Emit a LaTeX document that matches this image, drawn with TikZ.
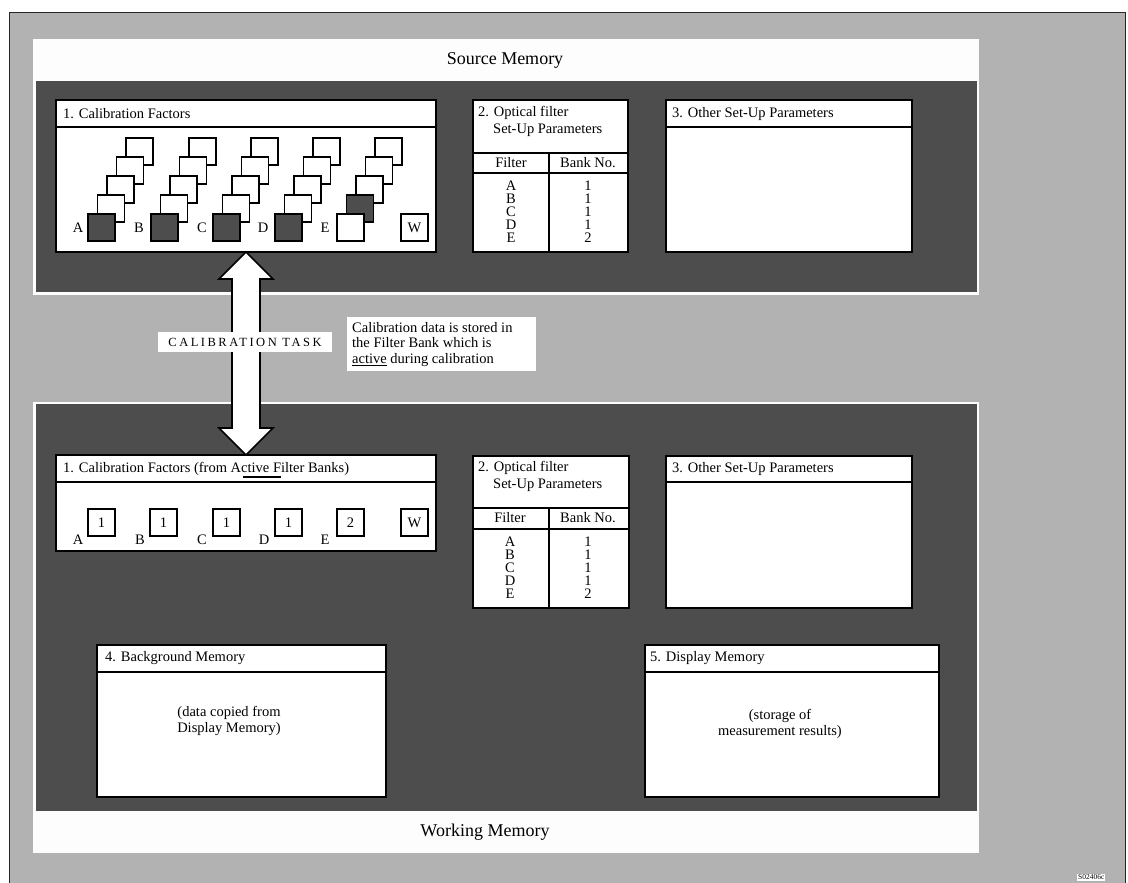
\documentclass[tikz,border=0pt]{standalone}
\usepackage{fontspec}
\setmainfont{Liberation Serif}
\definecolor{panelgray}{HTML}{B2B2B2}
\definecolor{darkpanel}{HTML}{4D4D4D}
\definecolor{offwhite}{HTML}{FDFDFD}
\newcommand\myfs[2]{\fontsize{#1}{#2}\selectfont}
\newcommand\thickul[1]{\setbox0\hbox{#1}\rlap{\raisebox{-3.2pt}{\rule{\wd0}{1.8pt}}}\box0\relax}
\begin{document}
\begin{tikzpicture}[x=1pt,y=-1pt,
  box/.style={draw=black, line width=1.8pt, fill=white},
  hline/.style={draw=black, line width=1.6pt},
  sqbox/.style={draw=black, line width=1.3pt, fill=white, minimum size=27pt, inner sep=0pt, outer sep=0pt, anchor=north west},
  sqdark/.style={sqbox, fill=darkpanel},
  lbl/.style={font=\myfs{14.5}{14}, inner sep=0pt},
  hdr/.style={font=\myfs{14.5}{14}, inner sep=0pt, anchor=west},
  title/.style={font=\myfs{18}{18}, inner sep=0pt}
]
\useasboundingbox (0,0) rectangle (1128,883);
\fill[white] (0,0) rectangle (1128,883);
% outer gray frame
\draw[fill=panelgray, draw=black!85, line width=1pt] (9,13) rectangle (1125,895);

% ---------- Source memory ----------
\fill[offwhite] (33,39) rectangle (979,295);
\fill[darkpanel] (36,81) rectangle (977,292);
\node[title] (srcmem) at (505,60) {Source Memory};

% box 1 top
\draw[box] (56,100) rectangle (436,252);
\draw[hline] (56,127) -- (436,127);
\node[hdr] (cf1) at (63,114) {1. Calibration Factors};

\foreach \nm/\bx/\lx in {A/88/78, B/151/139, C/213/202, D/275/263} {
  \foreach \k in {4,3,2,1} {
    \node[sqbox] (s\nm\k) at ({\bx+9.5*\k},{214-19*\k}) {};
  }
  \node[sqdark] (s\nm0) at (\bx,214) {};
  \node[lbl] (l\nm) at (\lx,228) {\nm};
}
\foreach \k in {4,3,2} {
  \node[sqbox] (sE\k) at ({337+9.5*\k},{214-19*\k}) {};
}
\node[sqdark] (sE1) at (346.5,195) {};
\node[sqbox] (sE0) at (337,214) {};
\node[lbl] (lE) at (325,228) {E};
\node[sqbox] (sW) at (401,214) {};
\node[lbl] at (sW.center) {W};

% box 2 top
\draw[box] (473,100) rectangle (628,252);
\draw[hline] (473,153) -- (628,153);
\draw[hline] (473,173) -- (628,173);
\draw[hline] (549,153) -- (549,252);
\node[hdr] (of1) at (478,113) {2. Optical filter};
\node[hdr] (of1b) at (493,130) {Set-Up Parameters};
\node[lbl] (fh1) at (511,163) {Filter};
\node[lbl] (bh1) at (588,163) {Bank No.};
\node[lbl, align=center, font=\myfs{14.5}{13}] (fl1) at (511,212) {A\\B\\C\\D\\E};
\node[lbl, align=center, font=\myfs{14.5}{13}] (bl1) at (588,212) {1\\1\\1\\1\\2};

% box 3 top
\draw[box] (666,100) rectangle (912,252);
\draw[hline] (666,127) -- (912,127);
\node[hdr] (os1) at (672,114) {3. Other Set-Up Parameters};

% ---------- Working memory ----------
\fill[offwhite] (33,402) rectangle (979,853);
\fill[darkpanel] (36,404) rectangle (977,811);
\node[title] (wrkmem) at (485,832) {Working Memory};

% box 1 bottom
\draw[box] (56,455) rectangle (436,551);
\draw[hline] (56,482) -- (436,482);
\node[hdr] (cf2) at (63,469) {1. Calibration Factors (from Active Filter Banks)};
\draw[line width=1.3pt] (243,477) -- (281,477);
\foreach \nm/\bx/\lx/\v in {A/88/78/1, B/150/140/1, C/213/202/1, D/275/264/1, E/337/325/2} {
  \node[sqbox] (t\nm) at (\bx,509) {};
  \node[lbl] at (t\nm.center) {\v};
  \node[lbl] (m\nm) at (\lx,540) {\nm};
}
\node[sqbox] (tW) at (401,509) {};
\node[lbl] at (tW.center) {W};

% box 2 bottom
\draw[box] (473,456) rectangle (629,608);
\draw[hline] (473,508) -- (629,508);
\draw[hline] (473,529) -- (629,529);
\draw[hline] (549,508) -- (549,608);
\node[hdr] (of2) at (478,468) {2. Optical filter};
\node[hdr] (of2b) at (493,485) {Set-Up Parameters};
\node[lbl] (fh2) at (510,518) {Filter};
\node[lbl] (bh2) at (588,518) {Bank No.};
\node[lbl, align=center, font=\myfs{14.5}{13}] (fl2) at (510,568) {A\\B\\C\\D\\E};
\node[lbl, align=center, font=\myfs{14.5}{13}] (bl2) at (588,568) {1\\1\\1\\1\\2};

% box 3 bottom
\draw[box] (666,456) rectangle (912,608);
\draw[hline] (666,482) -- (912,482);
\node[hdr] (os2) at (672,469) {3. Other Set-Up Parameters};

% box 4
\draw[box] (97,645) rectangle (386,797);
\draw[hline] (97,672) -- (386,672);
\node[hdr] (bg) at (105,658) {4. Background Memory};
\node[lbl, align=center, font=\myfs{14.5}{16}] (bgt) at (229,721) {(data copied from\\Display Memory)};

% box 5
\draw[box] (645,645) rectangle (939,797);
\draw[hline] (645,672) -- (939,672);
\node[hdr] (dm) at (650,658) {5. Display Memory};
\node[lbl, align=center, font=\myfs{14.5}{16}] (dmt) at (780,724) {(storage of\\measurement results)};

% ---------- double arrow ----------
\coordinate (atop) at (246,252);
\coordinate (abot) at (246,455);
\draw[fill=white, draw=black, line width=1.6pt, line join=miter]
  (atop) -- ++(-27,27) -- ++(13,0) -- (232,428) -- (219,428) -- (abot)
  -- (273,428) -- (260,428) -- (260,279) -- (273,279) -- cycle;

% calibration task label
\node[fill=white, minimum width=174pt, minimum height=20pt, inner sep=0pt,
  font=\myfs{12.5}{12.5}\addfontfeatures{LetterSpace=20}] (caltask) at (245,342) {CALIBRATION TASK};

% note
\fill[white] (347,317) rectangle (536,371);
\node[anchor=north west, inner sep=0pt, align=left, font=\myfs{14.5}{15.5}] (note) at (352,322)
  {Calibration data is stored in\\the Filter Bank which is\\\thickul{active} during calibration};

% corner label
\node[fill=white, anchor=north west, inner sep=1pt, font=\myfs{7.5}{7.5}] (code) at (1077,873.5) {S02406c};
\end{tikzpicture}
\end{document}
